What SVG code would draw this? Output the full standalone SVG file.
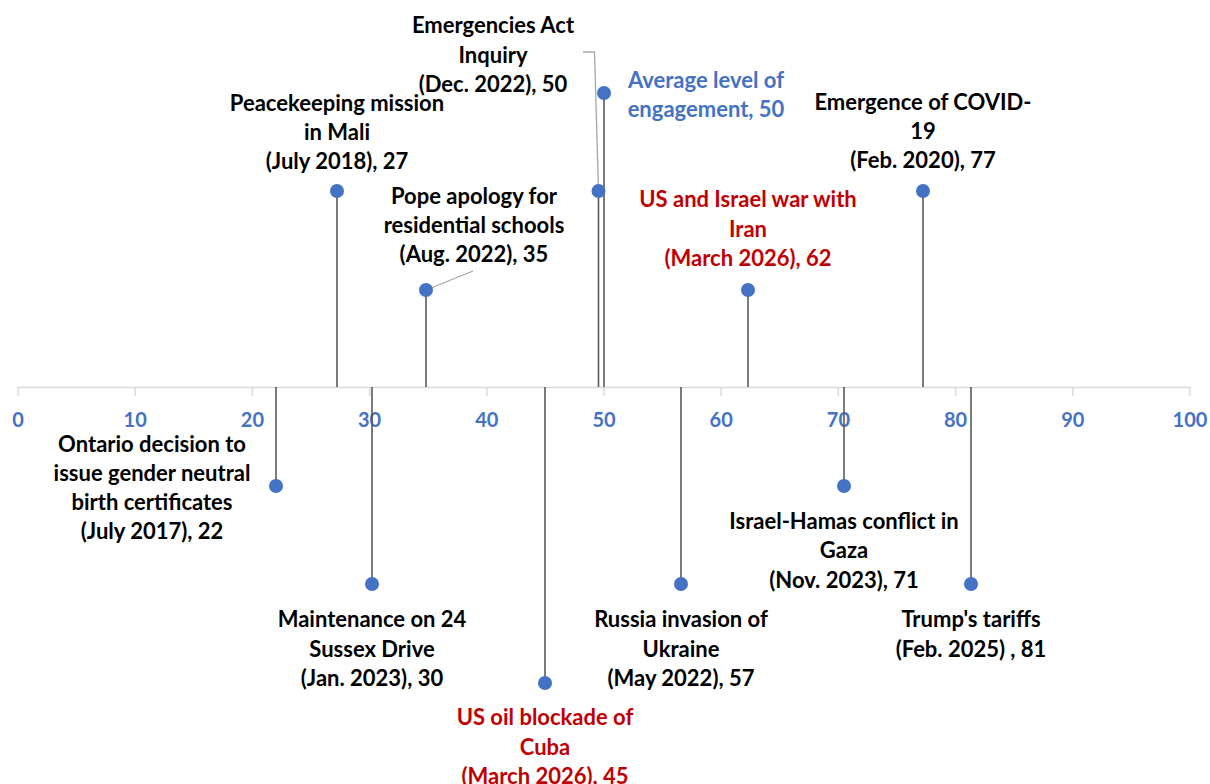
<svg xmlns="http://www.w3.org/2000/svg" width="1210" height="784" viewBox="0 0 1210 784">
<style>
text{font-family:Lato,"Liberation Sans",sans-serif;font-weight:bold;font-size:22px;text-anchor:middle;dominant-baseline:central}
.lbl{fill:#000}
.red{fill:#c00000}
.blue{fill:#4472c4}
.ax{fill:#4472c4;font-size:20px}
.stem{stroke:#595959;stroke-width:1.6;fill:none}
.lead{stroke:#a6a6a6;stroke-width:1.3;fill:none}
.dot{fill:#4472c4}
</style>
<rect width="1210" height="784" fill="#fff"/>
<g id="axis">
<line x1="18" y1="387.5" x2="1190" y2="387.5" stroke="#d9d9d9" stroke-width="1.5"/>
<g stroke="#d9d9d9" stroke-width="1.5">
<line x1="18" y1="387" x2="18" y2="396"/><line x1="135.2" y1="387" x2="135.2" y2="396"/><line x1="252.4" y1="387" x2="252.4" y2="396"/><line x1="369.6" y1="387" x2="369.6" y2="396"/><line x1="486.8" y1="387" x2="486.8" y2="396"/><line x1="604" y1="387" x2="604" y2="396"/><line x1="721.2" y1="387" x2="721.2" y2="396"/><line x1="838.4" y1="387" x2="838.4" y2="396"/><line x1="955.6" y1="387" x2="955.6" y2="396"/><line x1="1072.8" y1="387" x2="1072.8" y2="396"/><line x1="1190" y1="387" x2="1190" y2="396"/>
</g>
<text class="ax" x="18" y="419">0</text><text class="ax" x="135.2" y="419">10</text><text class="ax" x="252.4" y="419">20</text><text class="ax" x="369.6" y="419">30</text><text class="ax" x="486.8" y="419">40</text><text class="ax" x="604" y="419">50</text><text class="ax" x="721.2" y="419">60</text><text class="ax" x="838.4" y="419">70</text><text class="ax" x="955.6" y="419">80</text><text class="ax" x="1072.8" y="419">90</text><text class="ax" x="1190" y="419">100</text>
</g>
<g id="connectors">
<line class="stem" x1="276" y1="387" x2="276" y2="486"/>
<line class="stem" x1="337" y1="387" x2="337" y2="191"/>
<line class="stem" x1="372" y1="387" x2="372" y2="584"/>
<line class="stem" x1="426" y1="387" x2="426" y2="290"/>
<line class="stem" x1="545" y1="387" x2="545" y2="683"/>
<line class="stem" x1="598.5" y1="387" x2="598.5" y2="191"/>
<line class="stem" x1="604" y1="387" x2="604" y2="93"/>
<line class="stem" x1="681" y1="387" x2="681" y2="584"/>
<line class="stem" x1="748" y1="387" x2="748" y2="290"/>
<line class="stem" x1="844" y1="387" x2="844" y2="486"/>
<line class="stem" x1="923" y1="387" x2="923" y2="191"/>
<line class="stem" x1="971" y1="387" x2="971" y2="584"/>
<polyline class="lead" points="598.5,191 594.5,52 583,52"/>
<line class="lead" x1="426" y1="290" x2="473" y2="271"/>
</g>
<g id="n-ontario"><circle class="dot" cx="276" cy="486" r="7"/><text class="lbl" x="152"><tspan x="152" y="443">Ontario decision to</tspan><tspan x="152" y="472">issue gender neutral</tspan><tspan x="152" y="501">birth certificates</tspan><tspan x="152" y="530">(July 2017), 22</tspan></text></g>
<g id="n-peacekeeping"><circle class="dot" cx="337" cy="191" r="7"/><text class="lbl"><tspan x="337" y="102">Peacekeeping mission</tspan><tspan x="337" y="131">in Mali</tspan><tspan x="337" y="160">(July 2018), 27</tspan></text></g>
<g id="n-maintenance"><circle class="dot" cx="372" cy="584" r="7"/><text class="lbl"><tspan x="372" y="618">Maintenance on 24</tspan><tspan x="372" y="648">Sussex Drive</tspan><tspan x="372" y="677">(Jan. 2023), 30</tspan></text></g>
<g id="n-pope"><circle class="dot" cx="426" cy="290" r="7"/><text class="lbl"><tspan x="474" y="195">Pope apology for</tspan><tspan x="474" y="224">residential schools</tspan><tspan x="474" y="253">(Aug. 2022), 35</tspan></text></g>
<g id="n-cuba"><circle class="dot" cx="545" cy="683" r="7"/><text class="red"><tspan x="545" y="716">US oil blockade of</tspan><tspan x="545" y="746">Cuba</tspan><tspan x="545" y="775">(March 2026), 45</tspan></text></g>
<g id="n-emergencies"><circle class="dot" cx="598.5" cy="191" r="7"/><text class="lbl"><tspan x="493" y="24">Emergencies Act</tspan><tspan x="493" y="54">Inquiry</tspan><tspan x="493" y="83">(Dec. 2022), 50</tspan></text></g>
<g id="n-average"><circle class="dot" cx="604" cy="93" r="7"/><text class="blue"><tspan x="706" y="79">Average level of</tspan><tspan x="706" y="108">engagement, 50</tspan></text></g>
<g id="n-russia"><circle class="dot" cx="681" cy="584" r="7"/><text class="lbl"><tspan x="681" y="618">Russia invasion of</tspan><tspan x="681" y="648">Ukraine</tspan><tspan x="681" y="677">(May 2022), 57</tspan></text></g>
<g id="n-iran"><circle class="dot" cx="748" cy="290" r="7"/><text class="red"><tspan x="748" y="198">US and Israel war with</tspan><tspan x="748" y="228">Iran</tspan><tspan x="748" y="257">(March 2026), 62</tspan></text></g>
<g id="n-gaza"><circle class="dot" cx="844" cy="486" r="7"/><text class="lbl"><tspan x="844" y="520">Israel-Hamas conflict in</tspan><tspan x="844" y="549">Gaza</tspan><tspan x="844" y="579">(Nov. 2023), 71</tspan></text></g>
<g id="n-covid"><circle class="dot" cx="923" cy="191" r="7"/><text class="lbl"><tspan x="923" y="101">Emergence of COVID-</tspan><tspan x="923" y="130">19</tspan><tspan x="923" y="159">(Feb. 2020), 77</tspan></text></g>
<g id="n-tariffs"><circle class="dot" cx="971" cy="584" r="7"/><text class="lbl"><tspan x="971" y="618">Trump's tariffs</tspan><tspan x="971" y="648">(Feb. 2025) , 81</tspan></text></g>
</svg>
